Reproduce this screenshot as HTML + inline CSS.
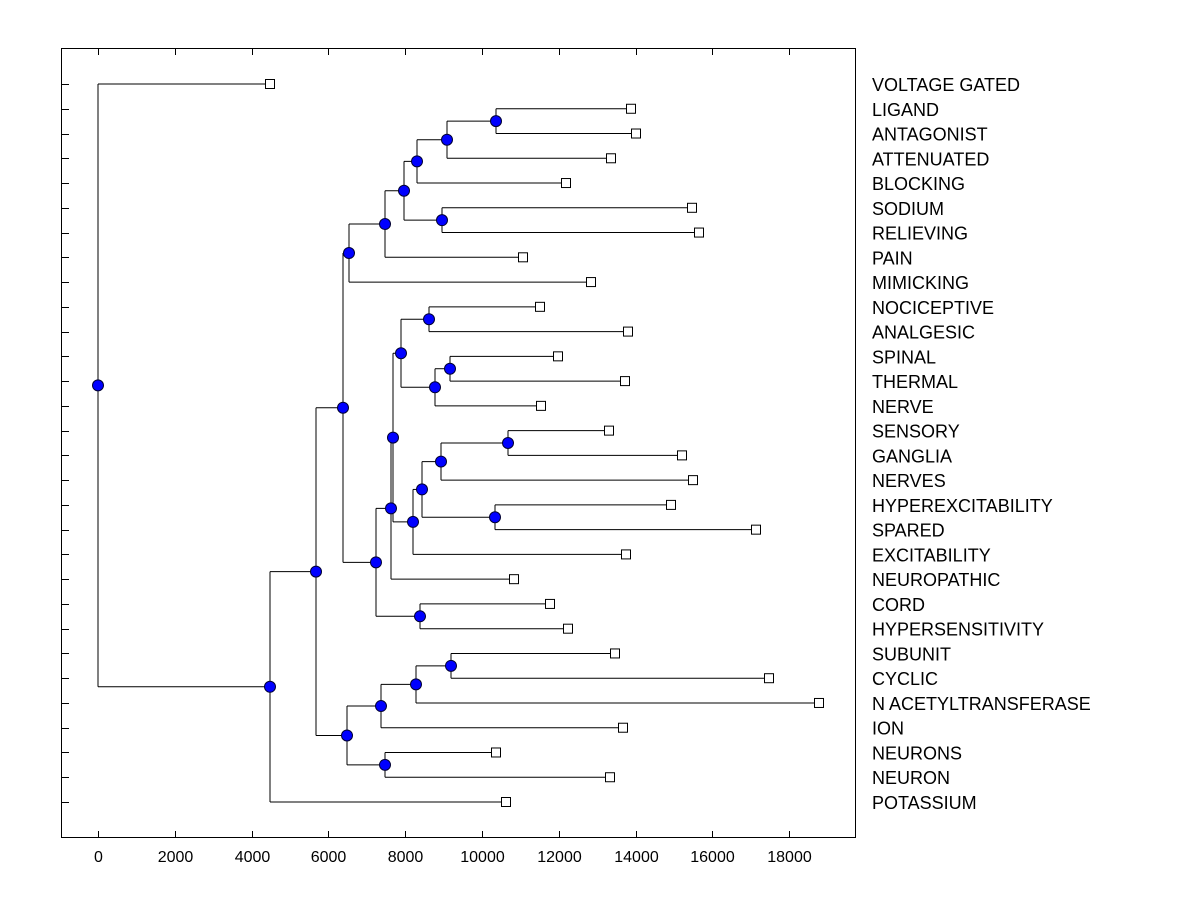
<!DOCTYPE html>
<html><head><meta charset="utf-8"><style>
html,body{margin:0;padding:0;background:#fff;}
svg{display:block;font-family:"Liberation Sans",Arial,sans-serif;}
</style></head><body>
<svg id="s" width="1200" height="900" viewBox="0 0 1200 900" xmlns="http://www.w3.org/2000/svg"></svg>
<script>
const s=document.getElementById('s');
let h='';
const names=["VOLTAGE GATED","LIGAND","ANTAGONIST","ATTENUATED","BLOCKING","SODIUM","RELIEVING","PAIN","MIMICKING","NOCICEPTIVE","ANALGESIC","SPINAL","THERMAL","NERVE","SENSORY","GANGLIA","NERVES","HYPEREXCITABILITY","SPARED","EXCITABILITY","NEUROPATHIC","CORD","HYPERSENSITIVITY","SUBUNIT","CYCLIC","N ACETYLTRANSFERASE","ION","NEURONS","NEURON","POTASSIUM"];
const ends=[270,631,636,611,566,692,699,523,591,540,628,558,625,541,609,682,693,671,756,626,514,550,568,615,769,819,623,496,610,506];
const Y=i=>84+i*(802-84)/29;
h+='<rect x="61.5" y="48.5" width="794" height="789" fill="none" stroke="#000" stroke-width="1"/>';
for(let i=0;i<30;i++){const y=Math.round(Y(i))+0.5;h+=`<line x1="61" y1="${y}" x2="69" y2="${y}" stroke="#000"/>`;
h+=`<text x="872" y="${Y(i)+7}" font-size="18">${names[i]}</text>`;}
for(let v=0;v<=18000;v+=2000){const x=Math.round(98+v*0.0384)+0.5;
h+=`<line x1="${x}" y1="49" x2="${x}" y2="55" stroke="#000"/><line x1="${x}" y1="831" x2="${x}" y2="837" stroke="#000"/>`;
h+=`<text x="${x}" y="862" font-size="16" text-anchor="middle">${v}</text>`;}
const leaves=[];for(let i=0;i<30;i++)leaves.push({y:Y(i),x:ends[i],leaf:1});
const N=(x,c)=>{const ch=c.map(k=>typeof k==='number'?leaves[k]:k);return {x,ch,y:ch.reduce((a,b)=>a+b.y,0)/ch.length};};
const A=N(496,[1,2]),B=N(447,[A,3]),C=N(417,[B,4]),D=N(442,[5,6]),E=N(404,[C,D]),F=N(385,[E,7]),G=N(349,[F,8]);
const H=N(429,[9,10]),I=N(450,[11,12]),J=N(435,[I,13]),K=N(401,[H,J]);
const L=N(508,[14,15]),M=N(441,[L,16]),Nn=N(495,[17,18]),O=N(422,[M,Nn]),P=N(413,[O,19]);
const R=N(393,[K,P]),Q=N(391,[R,20]),T=N(420,[21,22]),S=N(376,[Q,T]),U=N(343,[G,S]);
const V=N(451,[23,24]),W=N(416,[V,25]),X=N(381,[W,26]),Yy=N(385,[27,28]),Z=N(347,[X,Yy]);
const AA=N(316,[U,Z]),BB=N(270,[AA,29]),root=N(98,[0,BB]);
let lines='',dots='',sq='';
function draw(n){if(n.leaf){sq+=`<rect x="${n.x-4.5}" y="${n.y-4.5}" width="9" height="9" fill="#fff" stroke="#000"/>`;return;}
const ys=n.ch.map(c=>c.y);lines+=`<line x1="${n.x}" y1="${Math.min(...ys)}" x2="${n.x}" y2="${Math.max(...ys)}" stroke="#000"/>`;
n.ch.forEach(c=>{lines+=`<line x1="${n.x}" y1="${c.y}" x2="${c.x}" y2="${c.y}" stroke="#000"/>`;draw(c);});
dots+=`<circle cx="${n.x}" cy="${n.y}" r="5.5" fill="#0000ff" stroke="#000033" stroke-width="1"/>`;}
draw(root);
h+=lines+sq+dots;
s.innerHTML=h;
</script>
</body></html>
